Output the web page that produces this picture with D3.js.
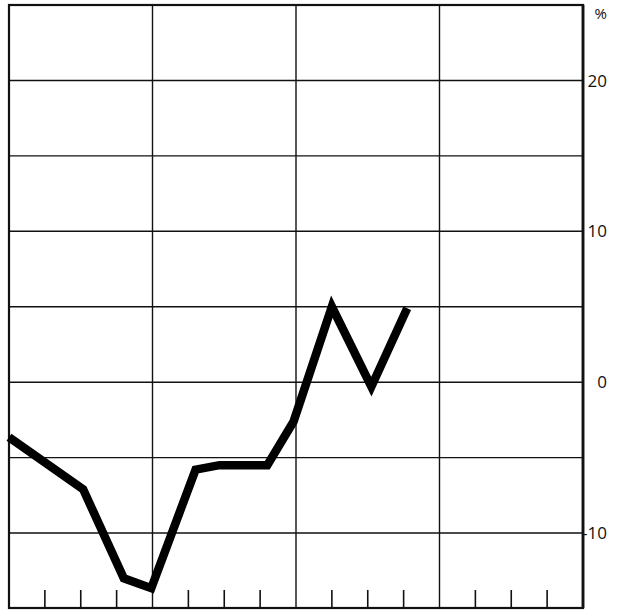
<!DOCTYPE html>
<html><head><meta charset="utf-8">
<script src="https://cdn.jsdelivr.net/npm/d3@7"></script>
<style>body{margin:0;background:#fff}svg{display:block}</style>
</head><body>
<svg id="c" width="629" height="610"></svg>
<script>
// Data: x position in months from start (4 years, quarterly ticks), value in %
const months = [0, 6.2, 9.6, 11.9, 15.6, 17.6, 21.6, 23.8, 27, 30.3, 33.3];
const values = [-3.65, -7.1, -13.0, -13.65, -5.8, -5.5, -5.5, -2.6, 5.0, -0.3, 4.9];
const yTicks = [20, 10, 0, -10];
const yGrid = [20, 15, 10, 5, 0, -5, -10];
const xMajor = [12, 24, 36];
const xMinor = [3, 6, 9, 15, 18, 21, 27, 30, 33, 39, 42, 45];

const svg = d3.select("#c");
const L = 9, R = 583, T = 5, B = 608;
const x = d3.scaleLinear().domain([0, 48]).range([L, R]);
const y = d3.scaleLinear().domain([-15, 25]).range([608.5, 5]);

// horizontal gridlines
svg.append("g").selectAll("line").data(yGrid).join("line")
  .attr("x1", L).attr("x2", R).attr("y1", d => y(d)).attr("y2", d => y(d))
  .attr("stroke", "#111").attr("stroke-width", 1.4);
// vertical major gridlines
svg.append("g").selectAll("line").data(xMajor).join("line")
  .attr("x1", d => x(d)).attr("x2", d => x(d)).attr("y1", T).attr("y2", B)
  .attr("stroke", "#111").attr("stroke-width", 1.4);
// bottom minor ticks
svg.append("g").selectAll("line").data(xMinor).join("line")
  .attr("x1", d => x(d)).attr("x2", d => x(d)).attr("y1", B - 18).attr("y2", B)
  .attr("stroke", "#111").attr("stroke-width", 1.6);

// frame
svg.append("rect").attr("x", L).attr("y", T).attr("width", R - L).attr("height", B - T)
  .attr("fill", "none").attr("stroke", "#111").attr("stroke-width", 2.2);
svg.append("line").attr("x1", R).attr("x2", R).attr("y1", T).attr("y2", B)
  .attr("stroke", "#111").attr("stroke-width", 2.8);

// right axis labels
svg.append("g").selectAll("text").data(yTicks).join("text")
  .attr("x", 607).attr("y", d => y(d)).attr("dy", "0.36em")
  .attr("text-anchor", "end")
  .attr("font-family", "'Open Sans', Lato, sans-serif").attr("font-size", 17)
  .attr("fill", "#111")
  .text(d => d < 0 ? "-" + Math.abs(d) : d);
svg.append("text").attr("x", 607).attr("y", 19).attr("text-anchor", "end")
  .attr("font-family", "'Open Sans', Lato, sans-serif").attr("font-size", 15)
  .attr("fill", "#111").text("%");

// data line
const line = d3.line().x((d, i) => x(months[i])).y(d => y(d));
svg.append("path").datum(values).attr("d", line)
  .attr("fill", "none").attr("stroke", "#000").attr("stroke-width", 8.5)
  .attr("stroke-linejoin", "miter").attr("stroke-linecap", "butt");
</script>
</body></html>
